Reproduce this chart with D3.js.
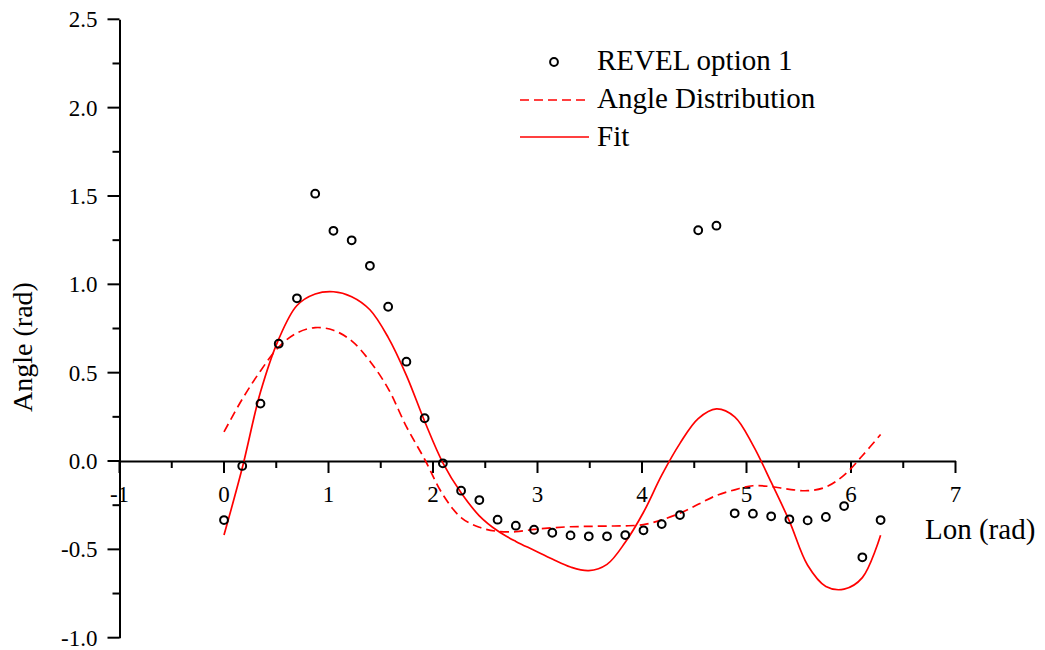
<!DOCTYPE html>
<html>
<head>
<meta charset="utf-8">
<script src="https://cdn.jsdelivr.net/npm/d3@7/dist/d3.min.js"></script>
<style>
  html, body { margin: 0; padding: 0; background: #fff; }
  svg { display: block; }
  text { font-family: "Liberation Serif", "Times New Roman", serif; fill: #000; }
</style>
</head>
<body>
<svg id="chart" width="1045" height="650"></svg>
<script>
// Longitude samples (rad), 10° apart from 0 to 2π
const lonDeg = [0,10,20,30,40,50,60,70,80,90,100,110,120,130,140,150,160,170,180,
                190,200,210,220,230,240,250,260,270,280,290,300,310,320,330,340,350,360];

// REVEL option 1 (rad)
const revel = [-0.334,-0.028,0.325,0.664,0.921,1.513,1.303,1.249,1.105,0.873,0.562,0.242,-0.013,
               -0.168,-0.221,-0.332,-0.366,-0.389,-0.406,-0.421,-0.426,-0.426,-0.419,-0.392,-0.357,
               -0.306,1.306,1.332,-0.296,-0.298,-0.313,-0.330,-0.336,-0.317,-0.255,-0.545,-0.334];

// Angle distribution (rad)
const angleDist = [0.165,0.35,0.51,0.645,0.725,0.755,0.74,0.68,0.565,0.41,0.195,0.01,-0.19,
                   -0.32,-0.375,-0.398,-0.40,-0.387,-0.378,-0.372,-0.37,-0.368,-0.367,-0.36,-0.333,
                   -0.295,-0.245,-0.195,-0.163,-0.14,-0.145,-0.16,-0.168,-0.147,-0.08,0.03,0.15];

// Fit (rad)
const fit = [-0.419,-0.04,0.39,0.69,0.88,0.945,0.958,0.93,0.856,0.70,0.485,0.225,-0.01,
             -0.18,-0.31,-0.395,-0.455,-0.505,-0.555,-0.60,-0.62,-0.585,-0.46,-0.29,-0.08,
             0.10,0.24,0.295,0.25,0.09,-0.12,-0.34,-0.59,-0.71,-0.725,-0.66,-0.42];

const xMajor = [-1,0,1,2,3,4,5,6,7];
const xMajorLabels = ["-1","0","1","2","3","4","5","6","7"];
const xMinor = [-0.5,0.5,1.5,2.5,3.5,4.5,5.5,6.5];
const yMajor = [-1,-0.5,0,0.5,1,1.5,2,2.5];
const yMajorLabels = ["-1.0","-0.5","0.0","0.5","1.0","1.5","2.0","2.5"];
const yMinor = [-0.75,-0.25,0.25,0.75,1.25,1.75,2.25];

const lon = lonDeg.map(d => d * Math.PI / 180);

const svg = d3.select("#chart");
const x = d3.scaleLinear().domain([-1, 7]).range([119.5, 955.5]);
const y = d3.scaleLinear().domain([-1, 2.5]).range([637.7, 19.3]);

const axisStroke = 2;

// X axis through y = 0
const gx = svg.append("g").attr("transform", `translate(0,${y(0)})`);
gx.call(d3.axisBottom(x).tickValues(xMajor).tickSizeInner(12).tickSizeOuter(0).tickFormat(""));
gx.selectAll(".tick").remove();
gx.select(".domain").attr("stroke", "#000").attr("stroke-width", axisStroke);
gx.selectAll(".major").data(xMajor).join("line")
  .attr("x1", d => x(d)).attr("x2", d => x(d)).attr("y1", 0).attr("y2", 12)
  .attr("stroke", "#000").attr("stroke-width", axisStroke);
gx.selectAll(".minor").data(xMinor).join("line")
  .attr("x1", d => x(d)).attr("x2", d => x(d)).attr("y1", 0).attr("y2", 7)
  .attr("stroke", "#000").attr("stroke-width", axisStroke);
gx.selectAll("text.lbl").data(xMajor).join("text").attr("class", "lbl")
  .attr("x", (d) => x(d)).attr("y", 41)
  .attr("text-anchor", "middle").attr("font-size", 23)
  .text((d, i) => xMajorLabels[i]);

// Y axis at x = -1
const gy = svg.append("g").attr("transform", `translate(${x(-1)},0)`);
gy.call(d3.axisLeft(y).tickValues(yMajor).tickSizeInner(12).tickSizeOuter(0).tickFormat(""));
gy.selectAll(".tick").remove();
gy.select(".domain").attr("stroke", "#000").attr("stroke-width", axisStroke);
gy.selectAll(".major").data(yMajor).join("line")
  .attr("x1", -12).attr("x2", 0).attr("y1", d => y(d)).attr("y2", d => y(d))
  .attr("stroke", "#000").attr("stroke-width", axisStroke);
gy.selectAll(".minor").data(yMinor).join("line")
  .attr("x1", -7).attr("x2", 0).attr("y1", d => y(d)).attr("y2", d => y(d))
  .attr("stroke", "#000").attr("stroke-width", axisStroke);
gy.selectAll("text.lbl").data(yMajor).join("text").attr("class", "lbl")
  .attr("x", -22).attr("y", d => y(d) + 8)
  .attr("text-anchor", "end").attr("font-size", 23)
  .text((d, i) => yMajorLabels[i]);

// Axis titles
svg.append("text").attr("x", 925).attr("y", 539).attr("font-size", 29).text("Lon (rad)");
svg.append("text").attr("transform", "translate(32,347) rotate(-90)")
  .attr("text-anchor", "middle").attr("font-size", 28).text("Angle (rad)");

// Curves
const line = d3.line().x(d => x(d[0])).y(d => y(d[1])).curve(d3.curveCatmullRom.alpha(0.5));
svg.append("path").datum(lon.map((l, i) => [l, angleDist[i]]))
  .attr("d", line).attr("fill", "none").attr("stroke", "#ff0000")
  .attr("stroke-width", 1.7).attr("stroke-dasharray", "9,5");
svg.append("path").datum(lon.map((l, i) => [l, fit[i]]))
  .attr("d", line).attr("fill", "none").attr("stroke", "#ff0000").attr("stroke-width", 1.7);

// Scatter
svg.append("g").selectAll("circle").data(lon.map((l, i) => [l, revel[i]])).join("circle")
  .attr("cx", d => x(d[0])).attr("cy", d => y(d[1])).attr("r", 3.9)
  .attr("fill", "none").attr("stroke", "#000").attr("stroke-width", 2);

// Legend
const lg = svg.append("g");
lg.append("circle").attr("cx", 554).attr("cy", 62).attr("r", 3.9)
  .attr("fill", "none").attr("stroke", "#000").attr("stroke-width", 2);
lg.append("line").attr("x1", 520).attr("x2", 589).attr("y1", 100).attr("y2", 100)
  .attr("stroke", "#ff0000").attr("stroke-width", 1.7).attr("stroke-dasharray", "9,5");
lg.append("line").attr("x1", 520).attr("x2", 589).attr("y1", 137).attr("y2", 137)
  .attr("stroke", "#ff0000").attr("stroke-width", 1.7);
const legendLabels = ["REVEL option 1", "Angle Distribution", "Fit"];
lg.selectAll("text").data(legendLabels).join("text")
  .attr("x", 597).attr("y", (d, i) => 70 + i * 38).attr("font-size", 29).text(d => d);
</script>
</body>
</html>
